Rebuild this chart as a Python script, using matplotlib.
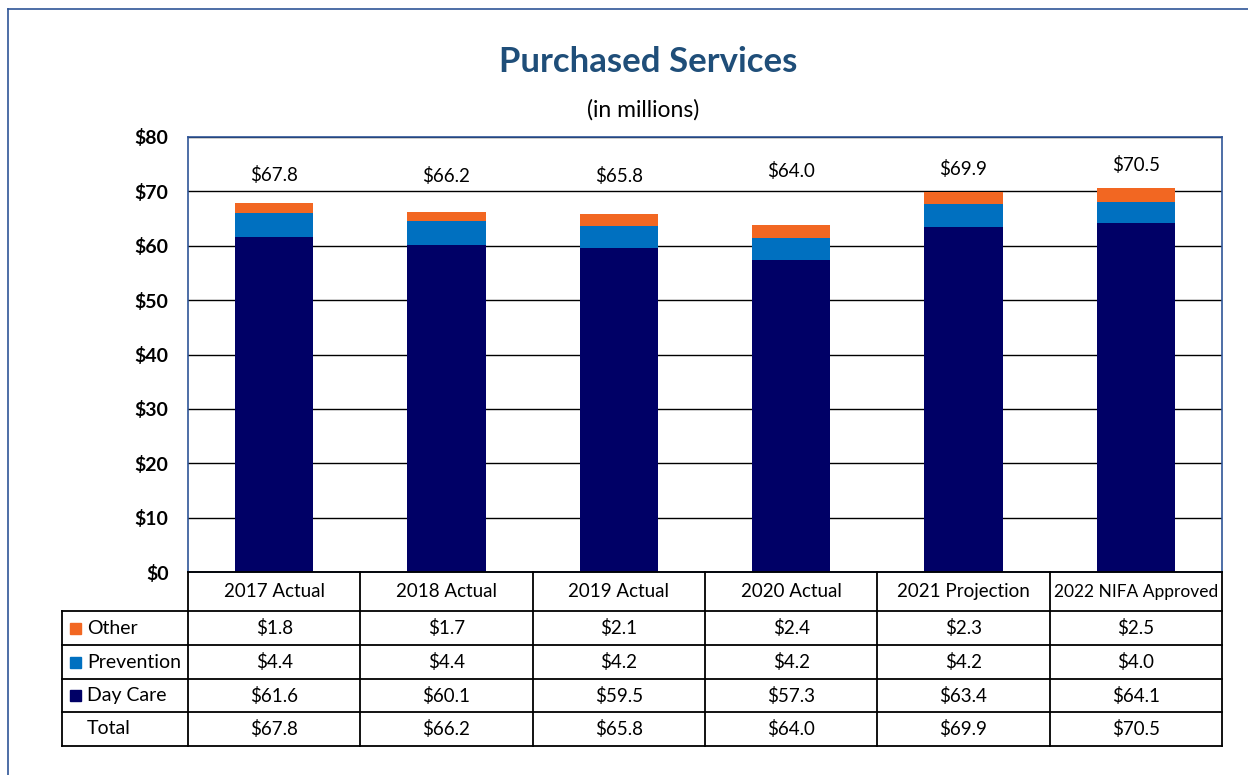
import matplotlib
matplotlib.use("Agg")
import matplotlib.pyplot as plt
from matplotlib.patches import Rectangle
import numpy as np

plt.rcParams['font.family'] = ['Lato', 'DejaVu Sans']

categories = ["2017 Actual", "2018 Actual", "2019 Actual", "2020 Actual",
              "2021 Projection", "2022 NIFA Approved"]
day_care = [61.6, 60.1, 59.5, 57.3, 63.4, 64.1]
prevention = [4.4, 4.4, 4.2, 4.2, 4.2, 4.0]
other = [1.8, 1.7, 2.1, 2.4, 2.3, 2.5]
totals = [67.8, 66.2, 65.8, 64.0, 69.9, 70.5]
yticks = [0, 10, 20, 30, 40, 50, 60, 70, 80]

# label placement (layout only)
label_y = [73.0, 72.8, 72.8, 73.7, 74.1, 74.8]

C_DAY = "#000066"
C_PREV = "#0070C0"
C_OTH = "#F26722"
C_FRAME = "#2F5597"
C_TITLE = "#1F4E79"

W, H = 1248, 775
fig = plt.figure(figsize=(W / 100, H / 100), dpi=100)

def fx(px):
    return px / W

def fy(py):
    return 1 - py / H

# outer frame (left and top visible)
fig.add_artist(plt.Line2D([fx(8), fx(8)], [fy(9), 0], transform=fig.transFigure,
                          color=C_FRAME, lw=1.2))
fig.add_artist(plt.Line2D([fx(8), 1], [fy(9), fy(9)], transform=fig.transFigure,
                          color=C_FRAME, lw=1.2))

ax = fig.add_axes([fx(188), fy(572), fx(1222) - fx(188), fy(137) - fy(572)])
x = np.arange(len(categories))
bw = 0.455
ax.bar(x, day_care, bw, color=C_DAY, zorder=3)
ax.bar(x, prevention, bw, bottom=day_care, color=C_PREV, zorder=3)
bot2 = [a + b for a, b in zip(day_care, prevention)]
ax.bar(x, other, bw, bottom=bot2, color=C_OTH, zorder=3)

for xi, t, ly in zip(x, totals, label_y):
    ax.text(xi, ly, f"${t:.1f}", ha="center", va="center", fontsize=13.5,
            color="black")

ax.set_xlim(-0.5, len(categories) - 0.5)
ax.set_ylim(0, 80)
ax.set_yticks(yticks)
ax.set_yticklabels([f"${v}" for v in yticks], fontsize=14, fontweight="bold")
ax.tick_params(axis="y", length=0, pad=14)
ax.set_xticks([])
ax.yaxis.grid(True, color="black", lw=1.0, zorder=0)
for s in ax.spines.values():
    s.set_color(C_FRAME)
    s.set_linewidth(1.2)

fig.text(fx(648), fy(62), "Purchased Services", ha="center", va="center",
         fontsize=25, fontweight="bold", color=C_TITLE)
fig.text(fx(643), fy(110), "(in millions)", ha="center", va="center",
         fontsize=16.5, color="black")

# data table
tax = fig.add_axes([fx(188), fy(746), fx(1222) - fx(188), fy(572) - fy(746)])
tax.set_xlim(-0.5, len(categories) - 0.5)
tax.set_ylim(746, 572)
tax.axis("off")
rows_y = [572, 611, 645, 679, 712, 746]
unit = 1034 / 6
left_x = -0.5 - (188 - 62) / unit
lw = 1.3
tax.plot([-0.5, 5.5], [572, 572], color="black", lw=lw, clip_on=False)
for i in range(len(categories) + 1):
    tax.plot([i - 0.5, i - 0.5], [572, 746], color="black", lw=lw, clip_on=False)
for yv in rows_y[1:]:
    tax.plot([left_x, 5.5], [yv, yv], color="black", lw=lw, clip_on=False)
tax.plot([left_x, left_x], [611, 746], color="black", lw=lw, clip_on=False)

for i, c in enumerate(categories):
    fs = 12.5 if len(c) > 16 else 13.5
    tax.text(i, (572 + 611) / 2, c, ha="center", va="center", fontsize=fs)

row_names = ["Other", "Prevention", "Day Care", "Total"]
row_colors = [C_OTH, C_PREV, C_DAY, None]
row_vals = [other, prevention, day_care, totals]
for r in range(4):
    yc = (rows_y[r + 1] + rows_y[r + 2]) / 2
    col = row_colors[r]
    if col is not None:
        tax.add_patch(Rectangle((left_x + 8 / unit, yc - 5.5), 11 / unit, 11,
                                color=col, clip_on=False))
    tax.text(left_x + 25 / unit, yc, row_names[r], ha="left", va="center",
             fontsize=14)
    for i, v in enumerate(row_vals[r]):
        tax.text(i, yc, f"${v:.1f}", ha="center", va="center", fontsize=13.5)

fig.savefig("out.png", dpi=100)
